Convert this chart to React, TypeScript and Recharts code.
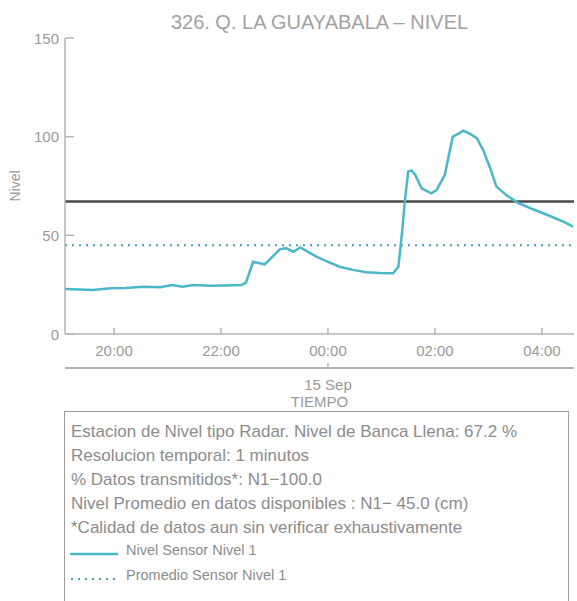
import React from 'react';
import { Line, LineChart, ReferenceLine, XAxis, YAxis } from 'recharts';

// lecturas del sensor (hora local, nivel en cm)
const times = [
    '19:05', '19:22', '19:36', '19:56', '20:12', '20:33', '20:52', '21:05', '21:17', '21:29',
    '21:48', '22:04', '22:23', '22:28', '22:36', '22:49', '23:06', '23:13', '23:21', '23:29',
    '23:47', '00:00', '00:13', '00:28', '00:43', '00:58', '01:13', '01:19', '01:23', '01:26',
    '01:30', '01:34', '01:38', '01:45', '01:56', '02:02', '02:11', '02:20', '02:26', '02:32',
    '02:39', '02:47', '02:54', '03:02', '03:09', '03:20', '03:33', '03:50', '04:09', '04:24',
    '04:35',
];
const nivel = [
    22.8, 22.6, 22.3, 23.2, 23.3, 24.0, 23.7, 24.8, 24.0, 24.8,
    24.5, 24.6, 24.8, 26.0, 36.6, 35.3, 42.9, 43.5, 41.7, 43.9,
    39.2, 36.6, 34.1, 32.5, 31.3, 30.9, 30.8, 34.1, 51.0, 66.2,
    82.3, 82.8, 80.6, 73.8, 71.3, 73.0, 80.6, 100.0, 101.4, 103.0,
    101.5, 99.2, 93.3, 84.0, 74.7, 70.4, 66.5, 63.2, 59.8, 56.9,
    54.4,
];

const bancaLlena = 67.2;
const promedio = 45.0;
const timeTicks = ['20:00', '22:00', '00:00', '02:00', '04:00'];
const dateTicks = ['00:00'];
const dateLabel = '15 Sep';
const axisRange = ['19:05', '04:36'];
const yTicks = [0, 50, 100, 150];

const infoLines = [
    'Estacion de Nivel tipo Radar. Nivel de Banca Llena: 67.2 %',
    'Resolucion temporal: 1 minutos',
    '% Datos transmitidos*: N1\u2212100.0',
    'Nivel Promedio en datos disponibles : N1\u2212 45.0 (cm)',
    '*Calidad de datos aun sin verificar exhaustivamente',
];

const GRAY = '#9a9a9a';
const AXIS = '#b4b4b4';
const TEAL = '#4cb7c6';
const FONT = '"Liberation Sans", Arial, sans-serif';

// horas desde las 20:00 del 14 Sep
const toHours = (s: string) => {
    const [h, m] = s.split(':').map(Number);
    let v = h + m / 60;
    if (v < 12) v += 24;
    return v - 20;
};
const fmtHour = (v: number) => {
    const h = Math.round(v + 20) % 24;
    return (h < 10 ? '0' : '') + h + ':00';
};

const data = times.map((t, i) => ({ t: toHours(t), nivel: nivel[i] }));
const domain = axisRange.map(toHours);

const TimeTick = (props: any) => {
    const { x, y, payload } = props;
    return (
        <g>
            <line x1={x} x2={x} y1={y - 6} y2={y} stroke={AXIS} strokeWidth={1.5} />
            <text x={x} y={y + 16} textAnchor="middle" dominantBaseline="central" fill={GRAY} fontSize={15} fontFamily={FONT}>
                {fmtHour(payload.value)}
            </text>
        </g>
    );
};

const DateTick = (props: any) => {
    const { x, y } = props;
    return (
        <g>
            <line x1={x} x2={x} y1={y - 5} y2={y} stroke={AXIS} strokeWidth={1.5} />
            <text x={x} y={y + 16} textAnchor="middle" dominantBaseline="central" fill={GRAY} fontSize={15} fontFamily={FONT}>
                {dateLabel}
            </text>
        </g>
    );
};

const NivelTick = (props: any) => {
    const { x, y, payload } = props;
    return (
        <g>
            <line x1={x} x2={x + 9} y1={y} y2={y} stroke={AXIS} strokeWidth={1.5} />
            <text x={x - 6} y={y} textAnchor="end" dominantBaseline="central" fill={GRAY} fontSize={15} fontFamily={FONT}>
                {payload.value}
            </text>
        </g>
    );
};

const App: React.FC = () => {
    return (
        <div style={{ position: 'absolute', left: 0, top: 0, width: 577, height: 601, overflow: 'hidden', background: '#fff', fontFamily: FONT }}>
            <div style={{ position: 'absolute', left: 65, top: 10, width: 509, textAlign: 'center', fontSize: 20, lineHeight: '24px', color: '#a2a2a2' }}>
                326. Q. LA GUAYABALA – NIVEL
            </div>
            <LineChart width={577} height={420} data={data} margin={{ top: 38, right: 3, left: 0, bottom: 25 }}>
                <XAxis
                    xAxisId="a_time"
                    dataKey="t"
                    type="number"
                    domain={domain}
                    ticks={timeTicks.map(toHours)}
                    tick={(p: any) => <TimeTick {...p} />}
                    tickLine={false}
                    tickSize={0}
                    tickMargin={0}
                    axisLine={{ stroke: AXIS, strokeWidth: 1.5 }}
                    height={34}
                    allowDataOverflow
                />
                <XAxis
                    xAxisId="b_date"
                    dataKey="t"
                    type="number"
                    domain={domain}
                    ticks={dateTicks.map(toHours)}
                    tick={(p: any) => <DateTick {...p} />}
                    tickLine={false}
                    tickSize={0}
                    tickMargin={0}
                    axisLine={{ stroke: AXIS, strokeWidth: 2 }}
                    height={27}
                    allowDataOverflow
                    label={{
                        value: 'TIEMPO',
                        content: (p: any) => {
                            const vb = p.viewBox || { x: 65, y: 368, width: 509 };
                            return (
                                <text x={vb.x + vb.width / 2} y={vb.y + 33} textAnchor="middle" dominantBaseline="central" fill={GRAY} fontSize={15} fontFamily={FONT}>
                                    TIEMPO
                                </text>
                            );
                        },
                    }}
                />
                <YAxis
                    domain={[0, 150]}
                    ticks={yTicks}
                    width={65}
                    tick={(p: any) => <NivelTick {...p} />}
                    tickLine={false}
                    tickSize={0}
                    tickMargin={0}
                    axisLine={{ stroke: AXIS, strokeWidth: 1.5 }}
                    label={{
                        value: 'Nivel',
                        content: (p: any) => {
                            const vb = p.viewBox || { y: 38, height: 296 };
                            const cy = vb.y + vb.height / 2;
                            return (
                                <text x={15} y={cy} transform={`rotate(-90, 15, ${cy})`} textAnchor="middle" dominantBaseline="central" fill={GRAY} fontSize={14} fontFamily={FONT}>
                                    Nivel
                                </text>
                            );
                        },
                    }}
                />
                <ReferenceLine xAxisId="a_time" y={bancaLlena} stroke="#4a4a4a" strokeWidth={2.5} />
                <ReferenceLine xAxisId="a_time" y={promedio} stroke="#4a9fb8" strokeWidth={2} strokeDasharray="2 5" />
                <Line
                    xAxisId="a_time"
                    type="linear"
                    dataKey="nivel"
                    name="Nivel Sensor Nivel 1"
                    stroke={TEAL}
                    strokeWidth={2.5}
                    dot={false}
                    isAnimationActive={false}
                />
            </LineChart>
            <div
                style={{
                    position: 'absolute',
                    left: 64,
                    top: 411,
                    width: 505,
                    height: 220,
                    border: '1.5px solid #9c9c9c',
                    padding: '8px 0 0 6px',
                    boxSizing: 'border-box',
                    color: '#8c8c8c',
                    fontSize: 17,
                    lineHeight: '24px',
                }}
            >
                {infoLines.map((l) => (
                    <div key={l} style={{ whiteSpace: 'nowrap' }}>{l}</div>
                ))}
                <div style={{ display: 'flex', alignItems: 'center', height: 24, fontSize: 14.5 }}>
                    <svg width={56} height={24} style={{ marginLeft: -1 }}>
                        <line x1={0} x2={48} y1={14} y2={14} stroke={TEAL} strokeWidth={2.5} />
                    </svg>
                    <span style={{ marginTop: -4 }}>Nivel Sensor Nivel 1</span>
                </div>
                <div style={{ display: 'flex', alignItems: 'center', height: 24, fontSize: 14.5 }}>
                    <svg width={56} height={24} style={{ marginLeft: -1 }}>
                        <line x1={1} x2={48} y1={15} y2={15} stroke="#4a9fb8" strokeWidth={2} strokeDasharray="2 5" />
                    </svg>
                    <span style={{ marginTop: -2 }}>Promedio Sensor Nivel 1</span>
                </div>
            </div>
        </div>
    );
};

export default App;
